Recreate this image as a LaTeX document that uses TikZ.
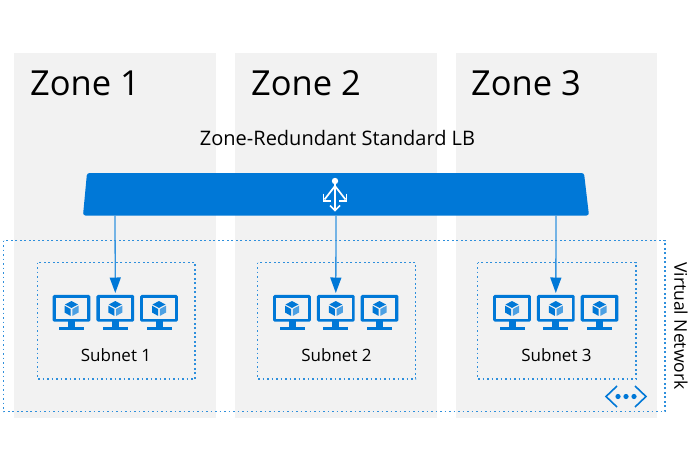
\documentclass[tikz,border=0pt]{standalone}
\usepackage{fontspec}
\setmainfont{Open Sans}
\usetikzlibrary{arrows.meta,shapes.geometric}
\definecolor{azure}{HTML}{0078D7}
\definecolor{zonegray}{HTML}{F2F2F2}
\definecolor{dotblue}{HTML}{2E8FDC}
\tikzset{
 x=1pt,y=-1pt,
 zonebox/.style={fill=zonegray,draw=none},
 dotbox/.style={draw=dotblue,line width=1.6pt,dash pattern=on 1.6pt off 2.9pt},
 zonelabel/.style={font=\fontsize{34.5}{35}\selectfont,anchor=west,inner sep=0pt,text=black},
 sublabel/.style={font=\fontsize{17}{18}\selectfont,inner sep=0pt,text=black},
 lblabel/.style={font=\fontsize{20}{21}\selectfont,inner sep=0pt,text=black},
 drop/.style={draw=azure!80!white,line width=1.3pt,-{Triangle[length=15.5pt,width=11pt,color=azure]}},
 pics/monitor/.style={code={
  \fill[azure,rounded corners=1.6pt] (-18.9,-17.7) rectangle (18.9,9.2);
  \fill[zonegray] (-15.7,-14.6) rectangle (15.7,6);
  \fill[azure] (-3.5,8.5) rectangle (3.5,14);
  \fill[azure] (-12.5,14) rectangle (12.5,17.2);
  % cube
  \fill[azure] (0,-11.5) -- (6.5,-8) -- (0,-4.6) -- (-6.5,-8) -- cycle;
  \fill[azure] (-7,-6.8) -- (-0.9,-3.5) -- (-0.9,3.4) -- (-7,0) -- cycle;
  \fill[azure!70!white] (7,-6.8) -- (0.9,-3.5) -- (0.9,3.4) -- (7,0) -- cycle;
 }},
}
\begin{document}
\begin{tikzpicture}
\useasboundingbox (0,0) rectangle (700,466);
\fill[white] (0,0) rectangle (700,466);
% zones
\fill[zonebox] (14,53) rectangle (216,418);
\fill[zonebox] (235,53) rectangle (437,418);
\fill[zonebox] (456,53) rectangle (657,418);
\node[zonelabel] (z1) at (30,83) {Zone 1};
\node[zonelabel] (z2) at (251,83) {Zone 2};
\node[zonelabel] (z3) at (471,83) {Zone 3};
\node[lblabel] (lbt) at (337.5,138) {Zone-Redundant Standard LB};
% vnet and subnets
\draw[dotbox] (3.5,240.5) rectangle (665,411.5);
\draw[dotbox] (37.5,262.5) rectangle (195,379);
\draw[dotbox] (257.5,262.5) rectangle (415.5,379);
\draw[dotbox] (477.5,262.5) rectangle (636,379);
% load balancer
\fill[azure,rounded corners=2.5pt] (87,173) -- (584,173) -- (589,215.5) -- (83,215.5) -- cycle;
\coordinate (lb1) at (115,215.5);
\coordinate (lb2) at (336,215.5);
\coordinate (lb3) at (556,215.5);
% LB icon
\begin{scope}[white,line width=1.7pt]
 \fill (335,181) circle (3.2pt);
 \draw (335,182) -- (335,210);
 \draw (335,186) -- (324.5,199.5);
 \draw (335,186) -- (345.5,199.5);
 \draw (323.5,193.5) -- (323.5,201) -- (331,201);
 \draw (346.5,193.5) -- (346.5,201) -- (339,201);
 \draw (330,205.5) -- (335,210.5) -- (340,205.5);
\end{scope}
% monitors
\foreach \cx/\n in {0/a,220.5/b,440.5/c}{
 \begin{scope}[shift={(\cx,0)}]
  \pic at (71.5,312.5) {monitor};
  \pic at (115.3,312.5) {monitor};
  \pic at (159,312.5) {monitor};
  \coordinate (m\n) at (115.3,293);
 \end{scope}
}
\draw[drop] (lb1) -- (ma);
\draw[drop] (lb2) -- (mb);
\draw[drop] (lb3) -- (mc);
\node[sublabel] (s1) at (116,355.5) {Subnet 1};
\node[sublabel] (s2) at (336.5,355.5) {Subnet 2};
\node[sublabel] (s3) at (556.5,355.5) {Subnet 3};
\node[sublabel,rotate=-90,font=\fontsize{17.5}{18}\selectfont] (vn) at (681,326) {Virtual Network};
% vnet icon
\draw[azure,line width=1.6pt] (617,386) -- (606,396.5) -- (617,407);
\draw[azure,line width=1.6pt] (635,386) -- (646,396.5) -- (635,407);
\fill[azure] (618,396.5) circle (2.6pt) (626,396.5) circle (2.6pt) (634,396.5) circle (2.6pt);
\end{tikzpicture}
\end{document}
